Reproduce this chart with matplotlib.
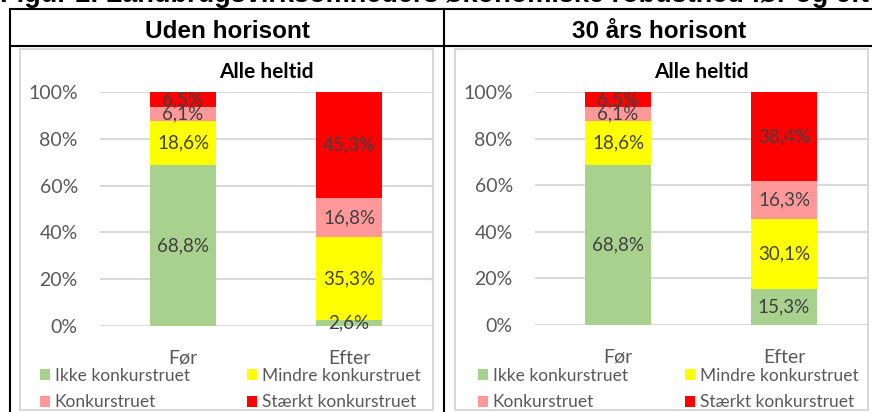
import numpy as np
import matplotlib.pyplot as plt
from matplotlib.lines import Line2D
from matplotlib.patches import Rectangle, Patch

# data
categories = ['Før', 'Efter']
series_names = ['Ikke konkurstruet', 'Mindre konkurstruet', 'Konkurstruet', 'Stærkt konkurstruet']
colors = ['#A9D18E', '#FFFF00', '#FF9999', '#FF0000']

uden_ikke = [68.8, 2.6]
uden_mindre = [18.6, 35.3]
uden_konk = [6.1, 16.8]
uden_staerkt = [6.5, 45.3]

tredive_ikke = [68.8, 15.3]
tredive_mindre = [18.6, 30.1]
tredive_konk = [6.1, 16.3]
tredive_staerkt = [6.5, 38.4]

yticks = [0, 20, 40, 60, 80, 100]

W, H = 872, 412
fig = plt.figure(figsize=(W / 100, H / 100), dpi=100)
fig.patch.set_facecolor('white')

def fx(px):
    return px / W

def fy(py):
    return 1 - py / H

BODY = 'Lato'
HEAD = 'Liberation Sans'

# cut-off figure caption at the very top
fig.text(fx(0), fy(2.5), 'Figur 2. Landbrugsvirksomheders økonomiske robusthed før og efter',
         fontsize=19.5, fontweight='bold', family=HEAD, va='baseline', ha='left')

# table lines
lw = 1.5
for (x0, y0, x1, y1) in [(10, 9, 10, H), (444, 9, 444, H), (10, 9, W, 9), (10, 46, W, 46)]:
    fig.add_artist(Line2D([fx(x0), fx(x1)], [fy(y0), fy(y1)], color='black', lw=lw))

fig.text(fx(227), fy(31), 'Uden horisont', fontsize=17.5, fontweight='bold', family=HEAD,
         ha='center', va='center')
fig.text(fx(659), fy(31), '30 års horisont', fontsize=17.5, fontweight='bold', family=HEAD,
         ha='center', va='center')


def draw_panel(frame, plot_box, data, legend_x):
    # frame = (left, top, right, bottom) in px
    l, t, r, b = frame
    fig.add_artist(Rectangle((fx(l), fy(b)), fx(r - l), (b - t) / H, fill=False,
                             edgecolor='#D9D9D9', lw=1.5, transform=fig.transFigure))
    pl, pt, pr, pb = plot_box
    ax = fig.add_axes([fx(pl), fy(pb), fx(pr - pl), (pb - pt) / H])
    x = np.arange(len(categories))
    bottom = np.zeros(len(categories))
    handles = []
    for vals, name, c in zip(data, series_names, colors):
        bars = ax.bar(x, vals, 0.4, bottom=bottom, color=c, label=name, zorder=2)
        labs = [f'{v:.1f}%'.replace('.', ',') for v in vals]
        ax.bar_label(bars, labels=labs, label_type='center', color='#404040',
                     fontsize=13.5, family=BODY)
        bottom += np.array(vals)
        handles.append(Patch(facecolor=c, label=name))
    ax.set_xlim(-0.5, 1.5)
    ax.set_ylim(0, 100)
    ax.set_yticks(yticks)
    ax.set_yticklabels([f'{v}%' for v in yticks])
    ax.set_xticks(x)
    ax.set_xticklabels(categories)
    ax.tick_params(axis='y', length=0, pad=16, labelsize=14, labelcolor='#595959')
    ax.tick_params(axis='x', length=0, pad=17, labelsize=14, labelcolor='#595959')
    for lab in ax.get_xticklabels() + ax.get_yticklabels():
        lab.set_family(BODY)
    for s in ax.spines.values():
        s.set_visible(False)
    ax.yaxis.grid(True, color='#D9D9D9', lw=1.5, zorder=0)
    ax.set_axisbelow(True)
    ax.set_facecolor('none')
    ax.set_title('Alle heltid', fontsize=15, fontweight='bold', family=BODY, pad=10)
    order = [handles[0], handles[2], handles[1], handles[3]]
    ax.legend(handles=order, ncol=2, loc='upper left',
              bbox_to_anchor=(fx(legend_x), fy(368)), bbox_transform=fig.transFigure,
              frameon=False, prop={'family': BODY, 'size': 12.5}, labelcolor='#595959',
              handlelength=0.6, handleheight=0.6, handletextpad=0.25,
              columnspacing=3.3, labelspacing=0.6, borderaxespad=0, borderpad=0)
    return ax


draw_panel((20, 49, 433, 410), (100, 92, 432, 326),
           [uden_ikke, uden_mindre, uden_konk, uden_staerkt], 40)
draw_panel((455, 49, 868, 410), (535, 92, 867, 325),
           [tredive_ikke, tredive_mindre, tredive_konk, tredive_staerkt], 478)

fig.savefig('out.png', dpi=100)
